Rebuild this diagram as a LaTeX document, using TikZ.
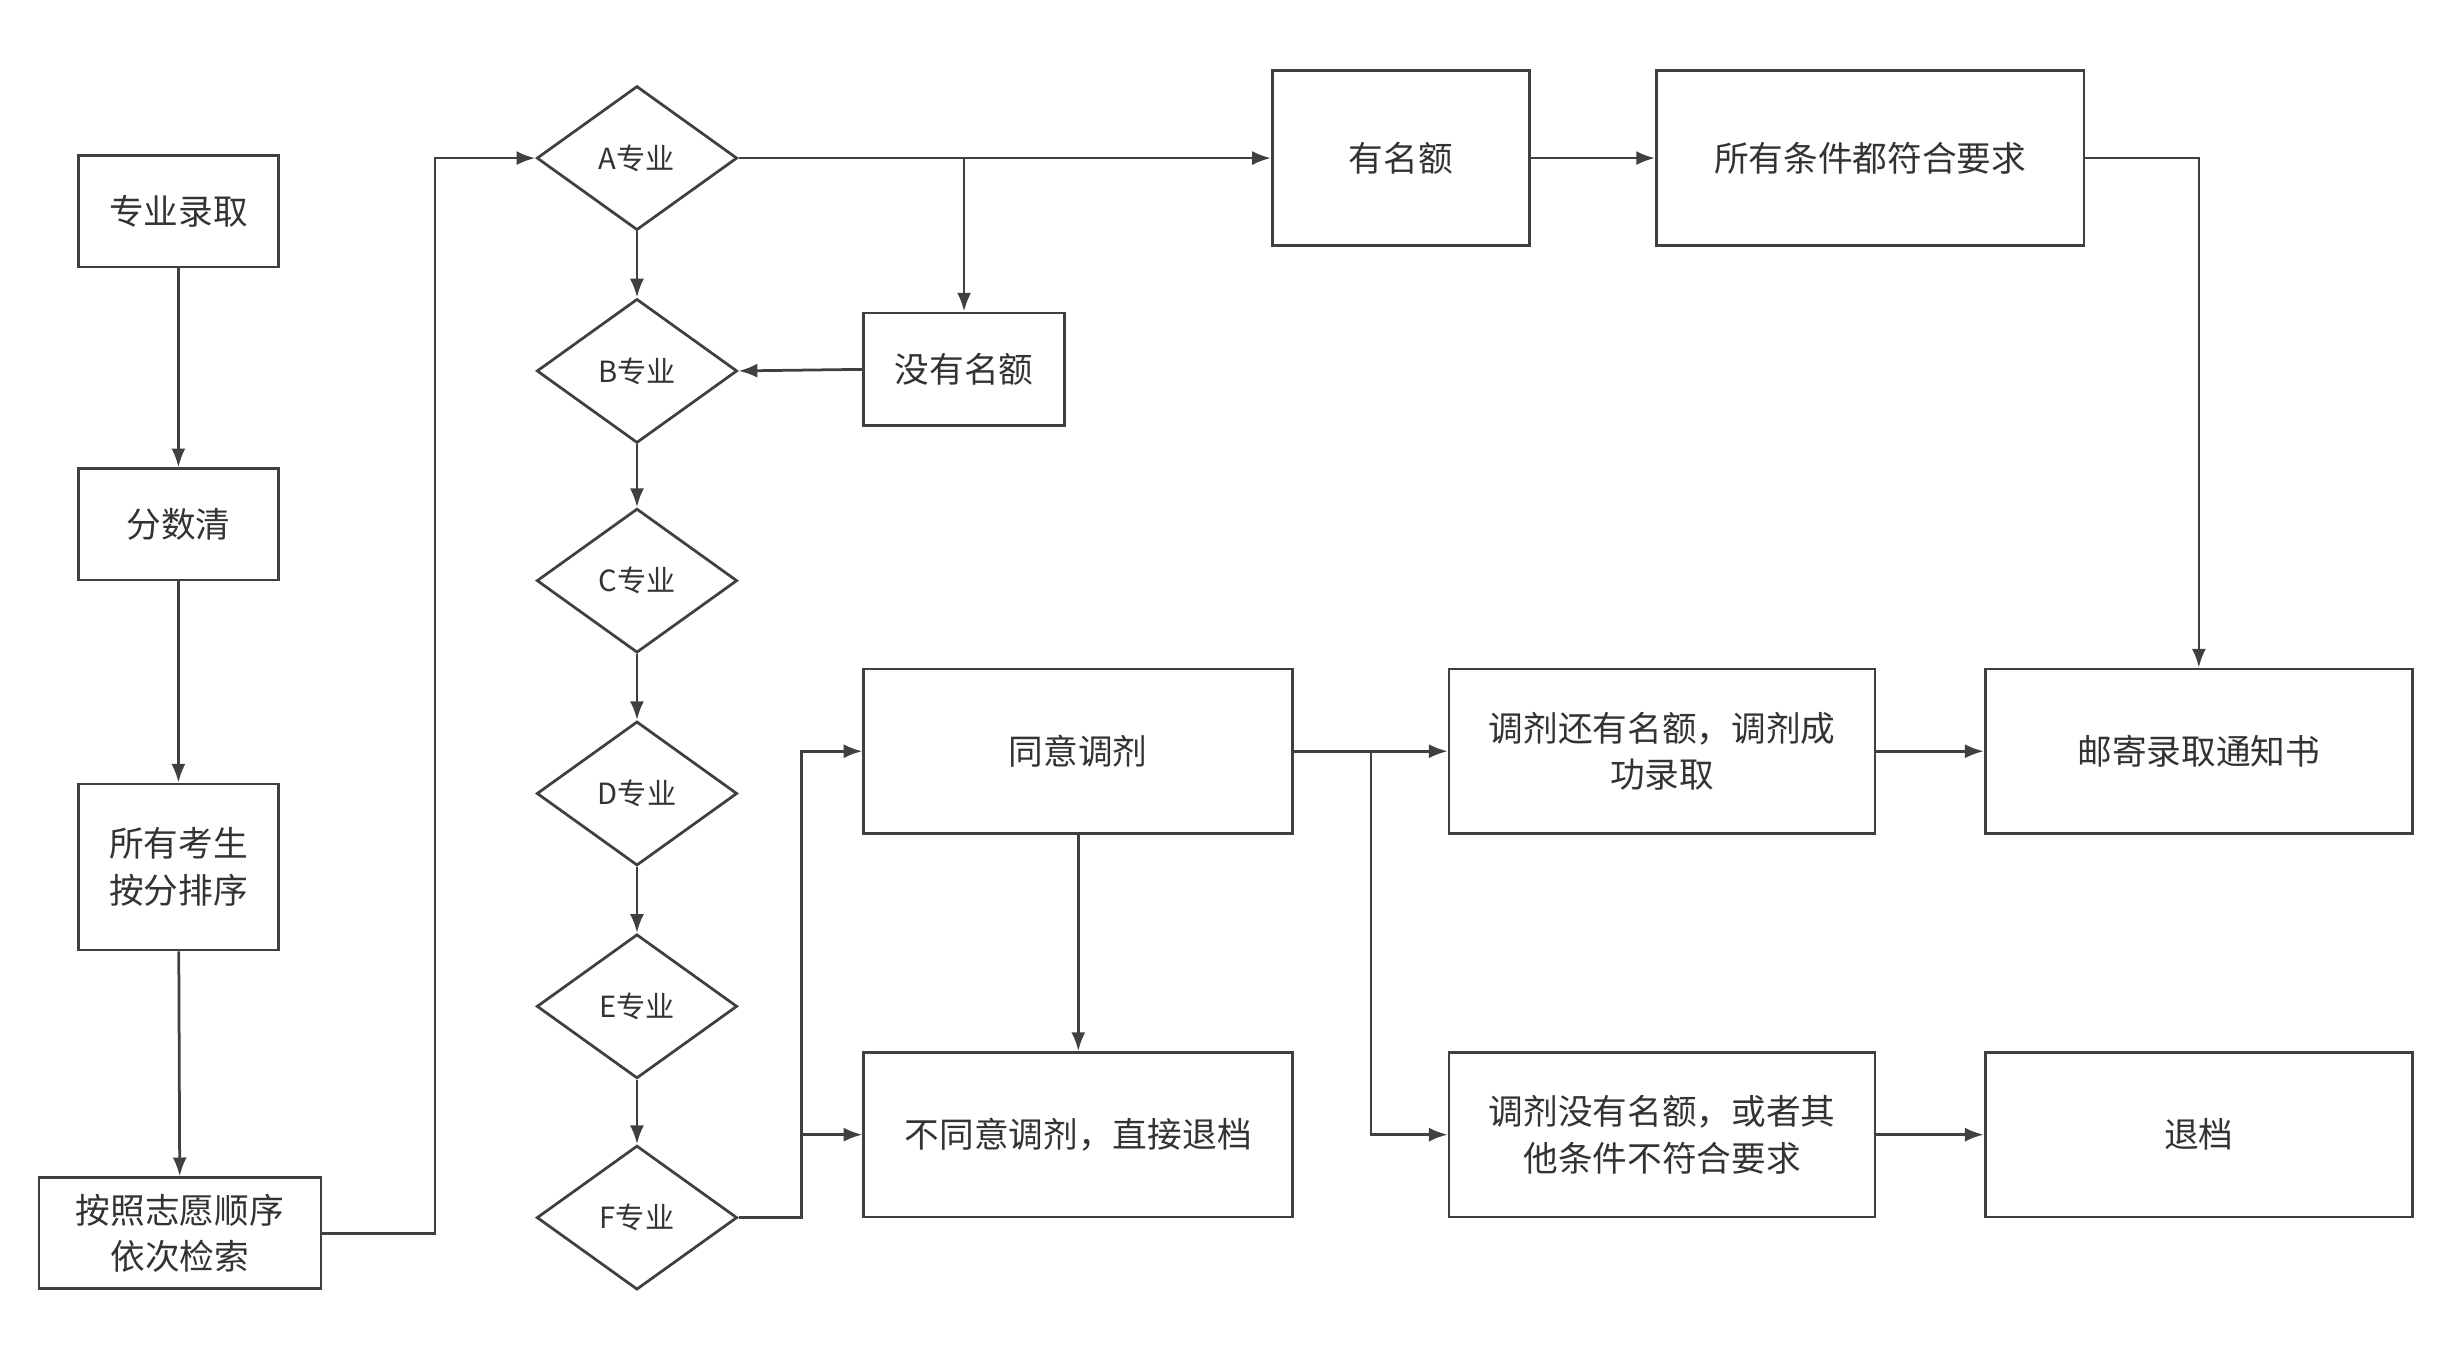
\documentclass[tikz,border=0pt]{standalone}
\usepackage{fontspec}
\setmainfont{Noto Sans CJK SC}
\usetikzlibrary{shapes.geometric, positioning, arrows.meta}
\tikzset{
    box/.style = {draw=black!75, line width=0.5pt, inner sep=0pt, align=center, font=\fontsize{6.3}{8.5}\selectfont, text=black!80},
    major/.style = {draw=black!75, line width=0.5pt, diamond, aspect=1.39, minimum width=1.28cm, minimum height=0.92cm, inner sep=0pt, font=\fontsize{5.3}{6}\selectfont, text=black!80},
    flow/.style = {draw=black!75, line width=0.5pt, -{Latex[length=1.2mm, width=0.9mm]}},
}
\begin{document}
\begin{tikzpicture}[x=0.01cm, y=-0.01cm]
    \useasboundingbox (0,0) rectangle (1568,875);

    \node[box, minimum width=1.28cm, minimum height=0.71cm] (lq) at (114,135) {专业录取};
    \node[box, minimum width=1.28cm, minimum height=0.71cm] (fsq) at (114,335) {分数清};
    \node[box, minimum width=1.28cm, minimum height=1.06cm] (px) at (114,554) {所有考生\\按分排序};
    \node[box, minimum width=1.80cm, minimum height=0.71cm] (js) at (115,788) {按照志愿顺序\\依次检索};

    \node[major] (A) at (407,101) {A专业};
    \node[major] (B) at (407,237) {B专业};
    \node[major] (C) at (407,371) {C专业};
    \node[major] (D) at (407,507) {D专业};
    \node[major] (E) at (407,643) {E专业};
    \node[major] (F) at (407,778) {F专业};

    \node[box, minimum width=1.28cm, minimum height=0.72cm] (my) at (616,236) {没有名额};
    \node[box, minimum width=1.64cm, minimum height=1.12cm] (ym) at (895,101) {有名额};
    \node[box, minimum width=2.73cm, minimum height=1.12cm] (sy) at (1195,101) {所有条件都符合要求};

    \node[box, minimum width=2.74cm, minimum height=1.05cm] (ty) at (689,480) {同意调剂};
    \node[box, minimum width=2.74cm, minimum height=1.05cm] (bty) at (689,725) {不同意调剂，直接退档};
    \node[box, minimum width=2.72cm, minimum height=1.05cm] (tjc) at (1062,480) {调剂还有名额，调剂成\\功录取};
    \node[box, minimum width=2.72cm, minimum height=1.05cm] (tjm) at (1062,725) {调剂没有名额，或者其\\他条件不符合要求};
    \node[box, minimum width=2.73cm, minimum height=1.05cm] (yj) at (1405,480) {邮寄录取通知书};
    \node[box, minimum width=2.73cm, minimum height=1.05cm] (td) at (1405,725) {退档};

    \coordinate (ja) at (616,101);
    \coordinate (fb) at (512,778);
    \coordinate (tb) at (876,480);

    \draw[flow] (lq) -- (fsq);
    \draw[flow] (fsq) -- (px);
    \draw[flow] (px) -- (js);
    \draw[flow] (js.east) -| (278,101) -- (A.west);
    \draw[flow] (A) -- (B);
    \draw[flow] (B) -- (C);
    \draw[flow] (C) -- (D);
    \draw[flow] (D) -- (E);
    \draw[flow] (E) -- (F);
    \draw[flow] (A.east) -- (ym.west);
    \draw[flow] (ja) -- (my.north);
    \draw[flow] (my.west) -- (B.east);
    \draw[flow] (ym) -- (sy);
    \draw[flow] (sy.east) -| (yj.north);
    \draw[flow] (F.east) -- (fb) |- (ty.west);
    \draw[flow] (fb) |- (bty.west);
    \draw[flow] (ty) -- (bty);
    \draw[flow] (ty.east) -- (tjc.west);
    \draw[flow] (tb) |- (tjm.west);
    \draw[flow] (tjc) -- (yj);
    \draw[flow] (tjm) -- (td);
\end{tikzpicture}
\end{document}
